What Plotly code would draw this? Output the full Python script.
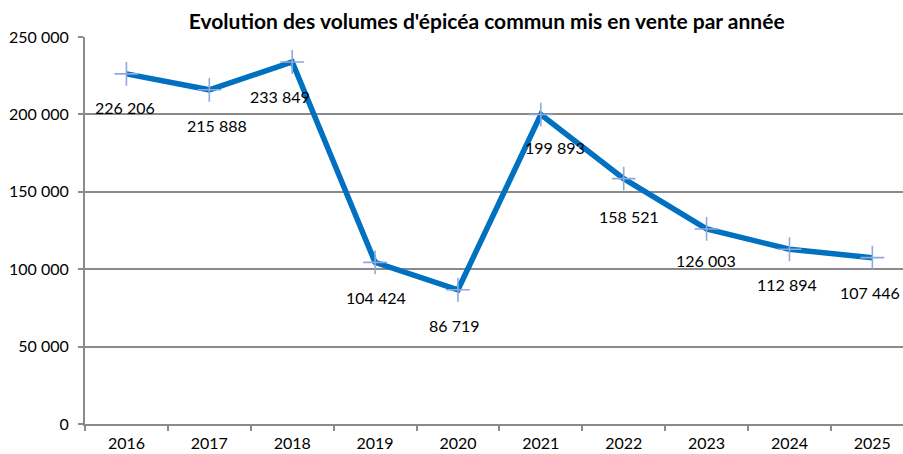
import plotly.graph_objects as go

years = ["2016", "2017", "2018", "2019", "2020", "2021", "2022", "2023", "2024", "2025"]
volumes = [226206, 215888, 233849, 104424, 86719, 199893, 158521, 126003, 112894, 107446]
labels = ["226 206", "215 888", "233 849", "104 424", "86 719", "199 893", "158 521", "126 003", "112 894", "107 446"]
label_dx = [-1, 8, -12, 1, -3, 14, 5, -1, -2, -2]
label_dy = [-34, -36, -34, -35, -36, -33, -38, -32, -35, -35]

fig = go.Figure()
fig.add_trace(go.Scatter(
    x=years, y=volumes, mode="lines+markers",
    line=dict(color="#0070C0", width=5.5),
    marker=dict(symbol="cross-thin", size=17, line=dict(color="#8EA9DB", width=1.6)),
    hoverinfo="skip", showlegend=False,
))
for i, (y, t, dx, dy) in enumerate(zip(volumes, labels, label_dx, label_dy)):
    fig.add_annotation(x=i, y=y, xref="x", yref="y", text=t, showarrow=False,
                       xshift=dx, yshift=dy, borderpad=0,
                       font=dict(family="Lato", size=16, color="#000000"))

fig.update_layout(
    width=903, height=454,
    margin=dict(l=85, r=0, t=37, b=30),
    paper_bgcolor="white", plot_bgcolor="white",
    separators=", ",
    hovermode=False,
    title=dict(text="<b>Evolution des volumes d'épicéa commun mis en vente par année</b>",
               x=0.539, xanchor="center", y=0.952, yanchor="middle",
               font=dict(family="Lato", size=21, color="#000000")),
    font=dict(family="Lato", size=16, color="#000000"),
)
fig.update_xaxes(type="category", range=[-0.5, 9.37], tickson="boundaries",
                 ticks="outside", ticklen=5, tickcolor="#8a8a8a", tickwidth=2,
                 ticklabelstandoff=4,
                 showline=True, linecolor="#8a8a8a", linewidth=2, showgrid=False,
                 tickfont=dict(family="Lato", size=16))
fig.update_yaxes(range=[0, 250000], dtick=50000, tickformat=",d",
                 ticks="outside", ticklen=5, tickcolor="#8a8a8a", tickwidth=2,
                 ticklabelstandoff=6,
                 showline=True, linecolor="#8a8a8a", linewidth=2,
                 showgrid=True, gridcolor="#8a8a8a", gridwidth=2, zeroline=False,
                 tickfont=dict(family="Lato", size=16))

fig.write_html("out.html", config={"displayModeBar": False, "staticPlot": True},
               post_script="document.body.style.margin='0';document.body.style.overflow='hidden';")
